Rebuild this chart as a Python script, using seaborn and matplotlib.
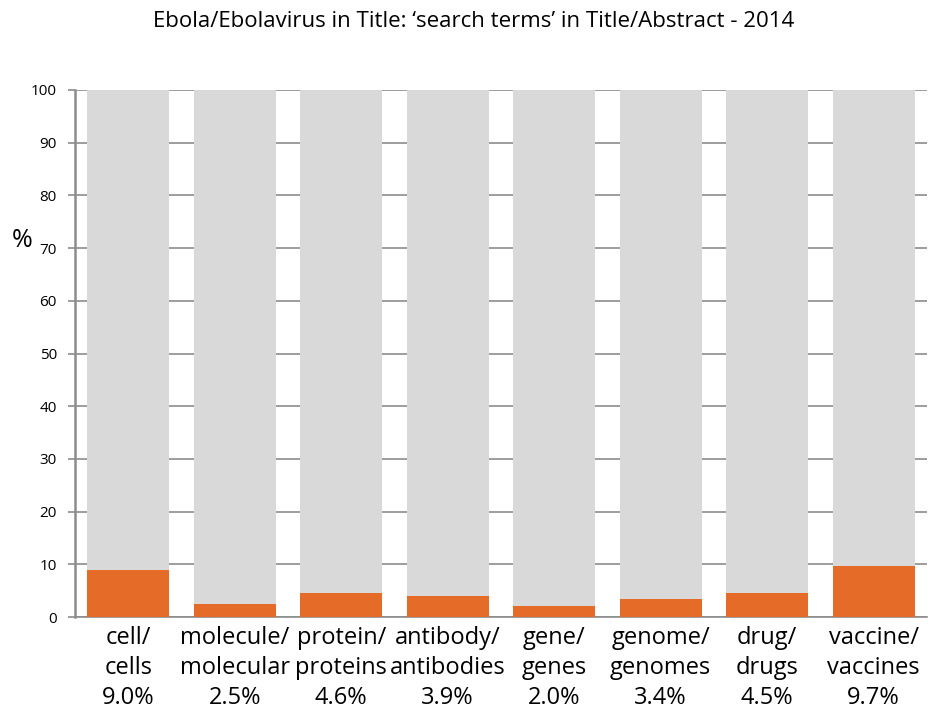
import numpy as np
import pandas as pd
import matplotlib.pyplot as plt
import seaborn as sns

# search terms and share of 2014 Ebola papers mentioning them (%)
terms_top = ["cell/", "molecule/", "protein/", "antibody/", "gene/", "genome/", "drug/", "vaccine/"]
terms_bottom = ["cells", "molecular", "proteins", "antibodies", "genes", "genomes", "drugs", "vaccines"]
pct = [9.0, 2.5, 4.6, 3.9, 2.0, 3.4, 4.5, 9.7]
total = [100] * len(pct)

labels = [f"{a}\n{b}\n{v:.1f}%" for a, b, v in zip(terms_top, terms_bottom, pct)]
df = pd.DataFrame({"term": labels, "pct": pct, "total": total})

sns.set_style("white")
plt.rcParams["font.family"] = ["Open Sans", "DejaVu Sans"]
plt.rcParams["text.color"] = "black"
plt.rcParams["xtick.color"] = "black"
plt.rcParams["ytick.color"] = "black"
plt.rcParams["axes.labelcolor"] = "black"

fig = plt.figure(figsize=(9.29, 7.12), dpi=100)
ax = fig.add_axes([0.0807, 0.1334, 0.917, 0.7402])

sns.barplot(data=df, x="term", y="total", color="#d9d9d9", width=0.77,
            saturation=1, linewidth=0, ax=ax, zorder=2)
sns.barplot(data=df, x="term", y="pct", color="#e46c28", width=0.77,
            saturation=1, linewidth=0, ax=ax, zorder=3)

ax.set_ylim(0, 100)
ax.set_xlim(-0.5, len(pct) - 0.5)
ax.set_yticks(np.arange(0, 101, 10))
ax.yaxis.grid(True, color="#8c8c8c", linewidth=1.2, zorder=0)
ax.set_axisbelow(True)

for s in ["top", "right"]:
    ax.spines[s].set_visible(False)
ax.spines["left"].set_color("#8c8c8c")
ax.spines["left"].set_linewidth(1.8)
ax.spines["bottom"].set_color("#8c8c8c")
ax.spines["bottom"].set_linewidth(1.2)

ax.tick_params(axis="y", direction="out", length=5, color="#8c8c8c", width=1.2,
               labelcolor="black", labelsize=11, pad=8, left=True)
ax.tick_params(axis="x", length=0, labelsize=17, pad=6.5, labelcolor="black")
for t in ax.get_xticklabels():
    t.set_linespacing(1.34)

ax.set_xlabel("")
ax.set_ylabel("%", rotation=0, fontsize=18, labelpad=0, va="center", color="black")
ax.yaxis.set_label_coords(-0.062, 0.715)

fig.suptitle("Ebola/Ebolavirus in Title: \u2018search terms\u2019 in Title/Abstract - 2014",
             fontsize=16, x=0.51, y=0.985, color="black")

fig.savefig("out.png", dpi=100)
